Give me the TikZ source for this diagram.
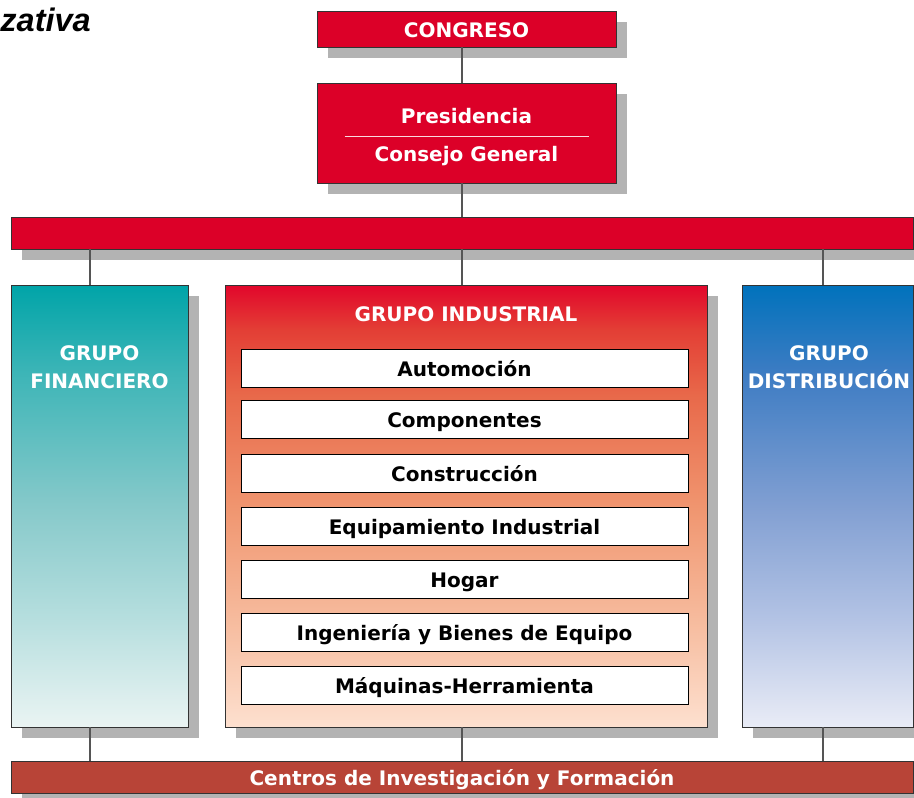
\documentclass[tikz,border=0pt]{standalone}
\usepackage{fontspec}
\setmainfont{DejaVu Sans}
\newfontfamily\headfont{Liberation Sans}
\usetikzlibrary{shadows}

\definecolor{orgred}{HTML}{DC0028}
\definecolor{centrosred}{HTML}{B84437}
\definecolor{shadowgray}{HTML}{B3B3B3}
\definecolor{linegray}{HTML}{555555}
% column gradients, top to bottom
\definecolor{finA}{HTML}{00A4A8}\definecolor{finB}{HTML}{3DB5B7}\definecolor{finC}{HTML}{86C9CA}
\definecolor{finD}{HTML}{B5DEDE}\definecolor{finE}{HTML}{EAF4F3}
\definecolor{indA}{HTML}{E2062B}\definecolor{indB}{HTML}{E33E35}\definecolor{indC}{HTML}{E8694A}
\definecolor{indD}{HTML}{F0956F}\definecolor{indE}{HTML}{F6BA9C}\definecolor{indF}{HTML}{FDE0CF}
\definecolor{disA}{HTML}{0072BC}\definecolor{disB}{HTML}{3D7CC3}\definecolor{disC}{HTML}{819FD2}
\definecolor{disD}{HTML}{B2C2E4}\definecolor{disE}{HTML}{E9ECF6}

\pgfdeclareverticalshading{finshade}{100bp}{color(0bp)=(finE); color(25bp)=(finE); color(37.5bp)=(finD);
  color(50bp)=(finC); color(65bp)=(finB); color(75bp)=(finA); color(100bp)=(finA)}
\pgfdeclareverticalshading{indshade}{100bp}{color(0bp)=(indF); color(25bp)=(indF); color(37.5bp)=(indE);
  color(50bp)=(indD); color(62.5bp)=(indC); color(70bp)=(indB); color(75bp)=(indA); color(100bp)=(indA)}
\pgfdeclareverticalshading{disshade}{100bp}{color(0bp)=(disE); color(25bp)=(disE); color(37.5bp)=(disD);
  color(50bp)=(disC); color(65bp)=(disB); color(75bp)=(disA); color(100bp)=(disA)}

\newcommand\labelfont{\fontsize{20}{28}\selectfont\bfseries}

\begin{document}
\begin{tikzpicture}[x=1pt, y=-1pt,
	box/.style={draw=black!80, line width=.8pt, inner sep=0pt,
		drop shadow={shadow xshift=11pt, shadow yshift=-11pt, fill=shadowgray, opacity=1}},
	redbox/.style={box, fill=orgred, text=white, font=\labelfont, text height=16pt, text depth=0pt},
	column/.style={box, minimum height=442pt},
	unit/.style={draw=black, line width=.8pt, fill=white, inner sep=0pt,
		minimum width=447pt, minimum height=38pt, font=\labelfont, text height=16pt, text depth=0pt},
	whitelabel/.style={text=white, font=\labelfont, align=center},
	link/.style={draw=linegray, line width=1.2pt}]
	\useasboundingbox (0,0) rectangle (914,798);
	\node[anchor=south east, inner sep=0pt, font=\headfont\fontsize{32.5}{36}\selectfont\bfseries\itshape] (title) at (91,32) {zativa};

	% top of the chart
	\node[redbox, minimum width=299pt, minimum height=36pt] (congreso) at (466.5,29) {CONGRESO};
	\node[redbox, minimum width=299pt, minimum height=100pt] (presid) at (466.5,133) {};
	\node[whitelabel, text height=16pt, text depth=0pt] (pres) at (466.5,115) {Presidencia};
	\node[whitelabel, text height=16pt, text depth=0pt] (consejo) at (466.5,153) {Consejo General};
	\draw[white!85!orgred, line width=.8pt] ([shift={(-122,3)}]presid.center) -- ([shift={(122,3)}]presid.center);
	\node[box, fill=orgred, minimum width=902pt, minimum height=32pt] (topbar) at (462,233) {};

	% the three groups
	\node[column, shading=finshade, minimum width=177pt] (fin) at (99.5,506) {};
	\node[column, shading=indshade, minimum width=482pt] (ind) at (466,506) {};
	\node[column, shading=disshade, minimum width=171pt] (dist) at (827.5,506) {};
	\node[whitelabel] (finlabel) at (99.5,367) {GRUPO\\FINANCIERO};
	\node[whitelabel, text height=16pt, text depth=0pt] (indlabel) at (466,313) {GRUPO INDUSTRIAL};
	\node[whitelabel] (dislabel) at (829,367) {GRUPO\\DISTRIBUCIÓN};

	\node[unit] (auto)  at (464.5,368) {Automoción};
	\node[unit] (comp)  at (464.5,419) {Componentes};
	\node[unit] (const) at (464.5,473) {Construcción};
	\node[unit] (equip) at (464.5,526) {Equipamiento Industrial};
	\node[unit] (hogar) at (464.5,579) {Hogar};
	\node[unit] (ing)   at (464.5,632) {Ingeniería y Bienes de Equipo};
	\node[unit] (maq)   at (464.5,685) {Máquinas-Herramienta};

	\node[box, fill=centrosred, text=white, font=\labelfont, text height=16pt, text depth=0pt,
		minimum width=902pt, minimum height=32pt] (centros) at (462,777) {Centros de Investigación y Formación};

	% connectors
	\draw[link] (congreso.south -| topbar.north) -- (presid.north -| topbar.north);
	\draw[link] (presid.south -| topbar.north) -- (topbar.north);
	\draw[link] (topbar.south) -- (topbar.south |- ind.north);
	\draw[link] ([xshift=-9.5pt]fin.north |- topbar.south) -- ([xshift=-9.5pt]fin.north);
	\draw[link] ([xshift=-4.5pt]dist.north |- topbar.south) -- ([xshift=-4.5pt]dist.north);
	\draw[link] ([xshift=-9.5pt]fin.south) -- ([xshift=-9.5pt]fin.south |- centros.north);
	\draw[link] (ind.south -| centros.north) -- (centros.north);
	\draw[link] ([xshift=-4.5pt]dist.south) -- ([xshift=-4.5pt]dist.south |- centros.north);
\end{tikzpicture}
\end{document}
